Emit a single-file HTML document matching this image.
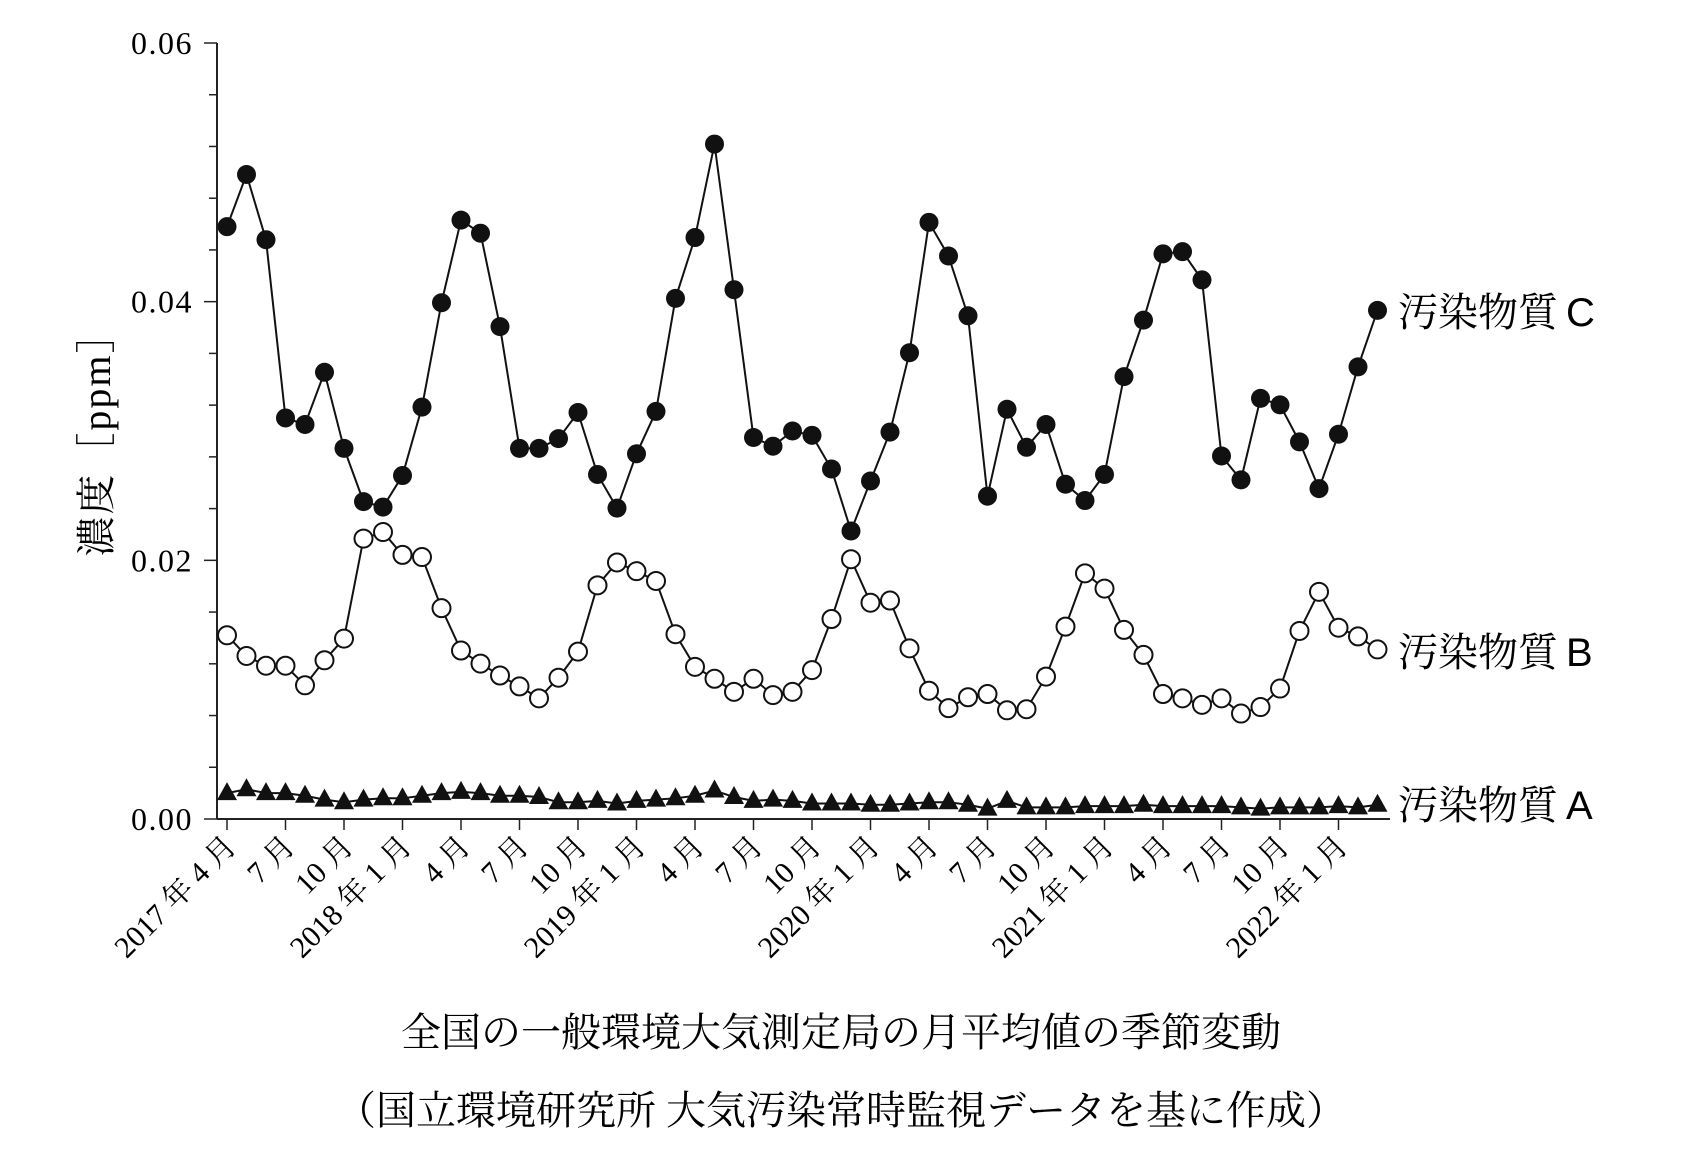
<!DOCTYPE html>
<html><head><meta charset="utf-8"><style>
html,body{margin:0;padding:0;background:#fff;}
svg{display:block;}
.ser{font-family:"Liberation Serif","Noto Serif CJK JP",serif;}
.jp{font-family:"Liberation Sans","Noto Serif CJK JP",serif;}
</style></head><body>
<svg id="s" width="1704" height="1172" viewBox="0 0 1704 1172" xmlns="http://www.w3.org/2000/svg"></svg>
<script>
const C=[209,161,221,385,391,343,413,462,467,438,375,279,203,215,301,413,413,404,380,437,468,418,379,275,219,133,267,403,411,397,401,432,489,443,398,325,205,236,291,457,377,412,391,446,461,437,347,295,234,232,258,420,442,367,373,407,450,400,338,286];
const B=[585,604,613,613,631,608,588,496,490,511,513,560,599,611,622,632,643,624,600,539,518,526,535,584,614,625,637,625,640,637,617,570,515,555,553,597,636,652,642,639,654,653,623,577,528,542,580,603,639,643,649,643,657,651,634,581,545,578,586,598];
const A=[2.0,2.3,2.0,2.0,1.8,1.5,1.3,1.5,1.6,1.6,1.8,2.0,2.1,2.0,1.8,1.8,1.7,1.3,1.3,1.4,1.2,1.4,1.5,1.6,1.8,2.2,1.7,1.4,1.5,1.4,1.2,1.2,1.2,1.1,1.1,1.2,1.3,1.3,1.1,0.8,1.4,0.9,0.9,0.9,1.0,1.0,1.0,1.1,1.0,1.0,1.0,1.0,0.9,0.8,0.9,0.9,0.9,1.0,0.9,1.1];
const X=i=>227+i*19.5;
const Yd=d=>43+(d-40)*1.0868;
const Yv=v=>819-v*12.93;
let h='';
h+='<line x1="217" y1="43" x2="217" y2="819" stroke="#222" stroke-width="2"/>';
h+='<line x1="217" y1="819" x2="1390" y2="819" stroke="#222" stroke-width="2"/>';
for(let k=0;k<=15;k++){const y=819-k*776/15;const L=(k%5==0)?13:8;h+=`<line x1="${217-L}" y1="${y}" x2="217" y2="${y}" stroke="#222" stroke-width="1.5"/>`;}
['0.00','0.02','0.04','0.06'].forEach((t,k)=>{h+=`<text class="ser" x="193" y="${819-k*258.7+11}" font-size="32" text-anchor="end" letter-spacing="1.5">${t}</text>`;});
const mon=['4','7','10','1'];
for(let j=0;j<20;j++){const i=j*3;const x=X(i);h+=`<line x1="${x}" y1="819" x2="${x}" y2="830" stroke="#222" stroke-width="1.5"/>`;
 let m=mon[j%4];let t=m+' 月';
 if(j==0)t='2017 年 4 月'; else if(j%4==3)t=(2018+(j-3)/4)+' 年 1 月';
 h+=`<text class="ser" transform="translate(${x+11},${848}) rotate(-45)" font-size="30" text-anchor="end">${t}</text>`;}
function line(pts){return `<polyline points="${pts.map(p=>p.join(',')).join(' ')}" fill="none" stroke="#111" stroke-width="2"/>`;}
const pc=C.map((d,i)=>[X(i),Yd(d)]),pb=B.map((d,i)=>[X(i),Yd(d)]),pa=A.map((v,i)=>[X(i),Yv(v)]);
h+=line(pa)+line(pb)+line(pc);
pa.forEach(([x,y])=>{h+=`<polygon points="${x},${y-11} ${x-10},${y+7} ${x+10},${y+7}" fill="#111"/>`;});
pb.forEach(([x,y])=>{h+=`<circle cx="${x}" cy="${y}" r="9" fill="#fff" stroke="#111" stroke-width="2"/>`;});
pc.forEach(([x,y])=>{h+=`<circle cx="${x}" cy="${y}" r="9.5" fill="#111"/>`;});
[['C',312],['B',652],['A',805]].forEach(([s,y])=>{h+=`<text class="jp" x="1398" y="${y+14}" font-size="40">汚染物質<tspan dx="8" font-family="Liberation Sans,sans-serif">${s}</tspan></text>`;});
h+=`<text class="ser" transform="translate(110,434) rotate(-90)" font-size="40" text-anchor="middle" letter-spacing="2">濃度［ppm］</text>`;
h+=`<text class="ser" x="841" y="1046" font-size="40" text-anchor="middle">全国の一般環境大気測定局の月平均値の季節変動</text>`;
h+=`<text class="ser" x="841" y="1124" font-size="40" text-anchor="middle">（国立環境研究所 大気汚染常時監視データを基に作成）</text>`;
document.getElementById('s').innerHTML=h;
</script>
</body></html>
